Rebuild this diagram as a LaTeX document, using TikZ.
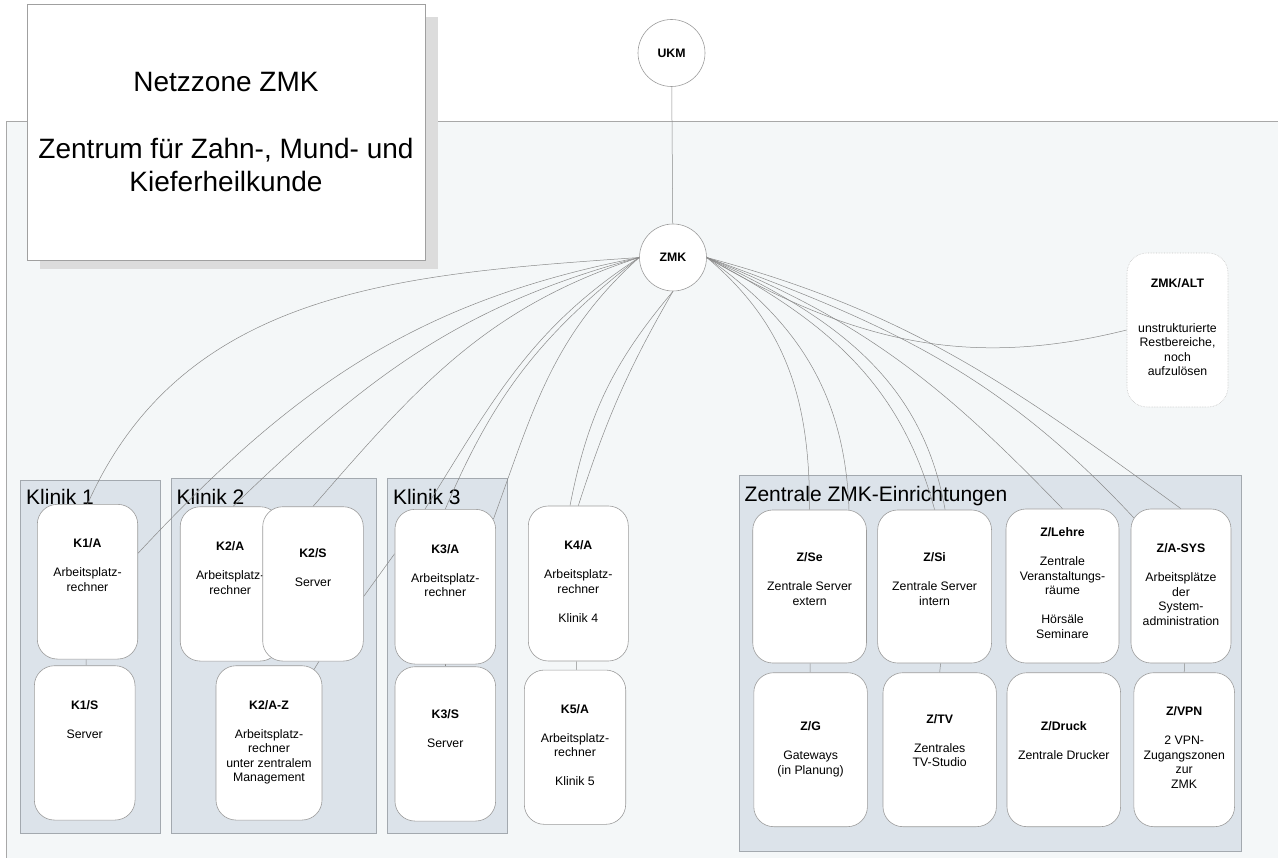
\documentclass[tikz,border=0pt]{standalone}
\usepackage{fontspec}
\setmainfont{Liberation Sans}
\usetikzlibrary{positioning}
\definecolor{ZoneFill}{HTML}{F4F7F8}
\definecolor{ZoneLine}{HTML}{A8A8A8}
\definecolor{GroupFill}{HTML}{DCE3EA}
\definecolor{GroupLine}{HTML}{A3A9AF}
\definecolor{CardLine}{HTML}{9C9C9C}
\definecolor{WireGray}{HTML}{8A8A8A}
\definecolor{ShadowGray}{HTML}{DCDCDC}
\definecolor{TitleLine}{HTML}{A0A0A0}
\definecolor{AltLine}{HTML}{C4C4C4}
\pgfdeclarelayer{back}
\pgfdeclarelayer{wires}
\pgfsetlayers{back,wires,main}
% width, height, space above first line, text
\newcommand{\cardtext}[4]{\parbox[c][#2pt][t]{#1pt}{\centering\fontsize{12.3}{14.5}\selectfont\vspace*{#3pt}#4}}

\begin{document}
\begin{tikzpicture}[x=1pt, y=1pt,
  card/.style={draw=CardLine, fill=white, rounded corners=20pt, inner sep=0pt, line width=0.6pt},
  hub/.style={circle, draw=CardLine, fill=white, minimum size=67pt, inner sep=0pt, line width=0.6pt, font=\fontsize{12.3}{14}\selectfont\bfseries},
  titlecard/.style={draw=TitleLine, fill=white, minimum width=398pt, minimum height=256pt, inner sep=0pt, align=center, line width=0.6pt, font=\fontsize{28}{33.5}\selectfont},
  wire/.style={draw=WireGray, line width=0.5pt},
  group/.style={fill=GroupFill, draw=GroupLine, line width=0.6pt},
  grouplabel/.style={anchor=base west, inner sep=0pt, font=\fontsize{21}{25}\selectfont}]
\useasboundingbox (0,0) rectangle (1278,-858);

% Title and hubs
\node[titlecard] (title) at (226,-132) {Netzzone ZMK\\[33.5pt]Zentrum für Zahn-, Mund- und\\Kieferheilkunde};
\node[hub] (ukm) at (671.5,-53) {UKM};
\node[hub] (zmk) at (673,-257.5) {ZMK};
\node[card, draw=AltLine, densely dotted] (alt) at (1177.5,-330) {\cardtext{101}{154}{26}{\textbf{ZMK/ALT}\\[30pt]unstrukturierte\\Restbereiche,\\noch\\aufzulösen}};

% Klinik 1-5
\node[card] (k1a) at (87.5,-581.7) {\cardtext{100.4}{154.7}{34.4}{\textbf{K1/A}\\[14.5pt]Arbeitsplatz-\\rechner}};
\node[card] (k1s) at (84.7,-742.9) {\cardtext{100.7}{154.3}{34.6}{\textbf{K1/S}\\[14.5pt]Server}};
\node[card] (k2a) at (230.2,-583.9) {\cardtext{100}{154.3}{35}{\textbf{K2/A}\\[14.5pt]Arbeitsplatz-\\rechner}};
\node[card] (k2s) at (313,-583.9) {\cardtext{100.6}{154.3}{41.6}{\textbf{K2/S}\\[14.5pt]Server}};
\node[card] (k2az) at (269,-742.9) {\cardtext{106}{154.3}{34.6}{\textbf{K2/A-Z}\\[14.5pt]Arbeitsplatz-\\rechner\\unter zentralem\\Management}};
\node[card] (k3a) at (445.3,-586.7) {\cardtext{100.7}{154.7}{35}{\textbf{K3/A}\\[14.5pt]Arbeitsplatz-\\rechner}};
\node[card] (k3s) at (445.3,-743.9) {\cardtext{100.7}{154.3}{42.6}{\textbf{K3/S}\\[14.5pt]Server}};
\node[card] (k4a) at (578.3,-583.5) {\cardtext{100}{155}{35}{\textbf{K4/A}\\[14.5pt]Arbeitsplatz-\\rechner\\[14.5pt]Klinik 4}};
\node[card] (k5a) at (575,-747.2) {\cardtext{101.4}{154.3}{34.3}{\textbf{K5/A}\\[14.5pt]Arbeitsplatz-\\rechner\\[14.5pt]Klinik 5}};

% Zentrale Einrichtungen
\node[card] (zse) at (809.6,-586.5) {\cardtext{113.7}{153}{42.7}{\textbf{Z/Se}\\[14.5pt]Zentrale Server\\extern}};
\node[card] (zsi) at (934.6,-586.5) {\cardtext{113.9}{153}{42.7}{\textbf{Z/Si}\\[14.5pt]Zentrale Server\\intern}};
\node[card] (zlehre) at (1062.5,-586) {\cardtext{113}{154}{18.7}{\textbf{Z/Lehre}\\[14.5pt]Zentrale\\Veranstaltungs-\\räume\\[14.5pt]Hörsäle\\Seminare}};
\node[card] (zasys) at (1181,-586) {\cardtext{100}{154}{34.7}{\textbf{Z/A-SYS}\\[14.5pt]Arbeitsplätze\\der\\System-\\administration}};
\node[card] (zg) at (810.6,-749.7) {\cardtext{113.6}{154}{49.3}{\textbf{Z/G}\\[14.5pt]Gateways\\(in Planung)}};
\node[card] (ztv) at (939.7,-749.7) {\cardtext{113.4}{154}{41.6}{\textbf{Z/TV}\\[14.5pt]Zentrales\\TV-Studio}};
\node[card] (zdruck) at (1063.8,-749.7) {\cardtext{113.6}{154}{49.3}{\textbf{Z/Druck}\\[14.5pt]Zentrale Drucker}};
\node[card] (zvpn) at (1184.2,-749.7) {\cardtext{100.7}{154}{34}{\textbf{Z/VPN}\\[14.5pt]2 VPN-\\Zugangszonen\\zur\\ZMK}};

% zone, shadow and groups
\begin{pgfonlayer}{back}
\fill[ZoneFill] (6,-121) rectangle (1300,-880);
\draw[ZoneLine, line width=0.6pt] (1300,-121) -- (6,-121) -- (6,-880);
\fill[ShadowGray] ([xshift=13pt,yshift=-13pt]title.north west) rectangle ([xshift=13pt,yshift=-9pt]title.south east);
\draw[group] (20.7,-480) rectangle (160,-833);
\draw[group] (171.7,-478.3) rectangle (376.7,-833);
\draw[group] (387.3,-478) rectangle (507.7,-833);
\draw[group] (739,-475) rectangle (1241,-851);
\node[grouplabel] (lblk1) at (26,-505) {Klinik 1};
\node[grouplabel] (lblk2) at (176.5,-505) {Klinik 2};
\node[grouplabel] (lblk3) at (392.8,-505) {Klinik 3};
\node[grouplabel] (lblz) at (744.5,-501.7) {Zentrale ZMK-Einrichtungen};
\end{pgfonlayer}

% connections
\begin{pgfonlayer}{wires}
\draw[wire] (ukm) -- (zmk);
\draw[wire] (zmk.west) to[out=184,in=66] (k1a.north);
\draw[wire] (zmk.west) to[out=191,in=47] ([yshift=28.4pt]k1a.east);
\draw[wire] (zmk.west) to[out=195,in=44] ([xshift=2.8pt]k2a.north);
\draw[wire] (zmk.west) to[out=198,in=49] (k2s.north);
\draw[wire] (zmk.west) to[out=213,in=58] ([xshift=-20.3pt]k3a.north);
\draw[wire] (zmk.west) to[out=218,in=67] (k3a.north);
\draw[wire] (zmk.west) to[out=222,in=70] ([xshift=-2.5pt,yshift=-10pt]k3a.north east);
\draw[wire] (zmk.south) to[out=230,in=79] ([xshift=-8.3pt]k4a.north);
\draw[wire] (zmk.south) to[out=240,in=72] (k4a.north);
\draw[wire] (zmk.east) to[out=-40,in=90] (zse.north);
\draw[wire] (zmk.east) to[out=-35,in=92] ([xshift=39.4pt]zse.north);
\draw[wire] (zmk.east) to[out=-28,in=105] (zsi.north);
\draw[wire] (zmk.east) to[out=-25,in=100] ([xshift=10.5pt]zsi.north);
\draw[wire] (zmk.east) to[out=-22,in=134] (zlehre.north);
\draw[wire] (zmk.east) to[out=-20,in=133] ([xshift=3pt,yshift=-9pt]zasys.north west);
\draw[wire] (zmk.east) to[out=-15,in=144] (zasys.north);
\draw[wire] (zmk.east) to[out=-30,in=194] (alt.west);
% short links
\draw[wire] (k1a) -- (k1s);
\draw[wire] ([xshift=6pt]k2s.south) -- ([xshift=45pt,yshift=-4pt]k2az.north);
\draw[wire] ([yshift=-12.7pt]k2s.east) -- ([yshift=33pt]k3a.west);
\draw[wire] (k3a) -- (k3s);
\draw[wire] (k4a) -- (k5a);
\draw[wire] (zse) -- (zg);
\draw[wire] ([xshift=6pt]zsi.south) -- (ztv.north);
\draw[wire] ([xshift=3.5pt]zasys.south) -- (zvpn.north);
\end{pgfonlayer}
\end{tikzpicture}
\end{document}
